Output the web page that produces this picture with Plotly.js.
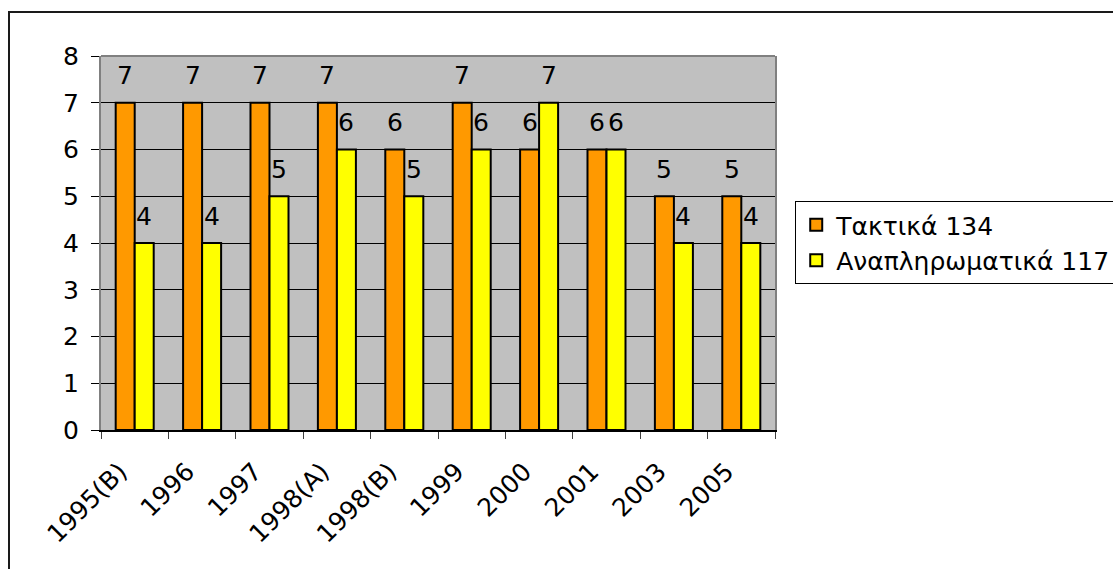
<!DOCTYPE html>
<html>
<head>
<meta charset="utf-8">
<script src="https://cdn.plot.ly/plotly-3.0.1.min.js"></script>
<style>
  html, body { margin: 0; padding: 0; background: #ffffff; }
  #wrap { position: relative; width: 1113px; height: 569px; overflow: hidden; }
  #chart { position: absolute; left: 0; top: 0; width: 1113px; height: 569px; }
  #frame { position: absolute; left: 8px; top: 11px; width: 1200px; height: 700px;
           border-left: 2px solid #1a1a1a; border-top: 2px solid #1a1a1a; pointer-events: none; }
</style>
</head>
<body>
<div id="wrap">
  <div id="chart"></div>
  <div id="frame"></div>
</div>
<script>
const categories = ["1995(B)", "1996", "1997", "1998(A)", "1998(B)", "1999", "2000", "2001", "2003", "2005"];
const taktika = [7, 7, 7, 7, 6, 7, 6, 6, 5, 5];
const anaplirwmatika = [4, 4, 5, 6, 5, 6, 7, 6, 4, 4];
const seriesNames = ["Τακτικά 134", "Αναπληρωματικά 117"];

const FONT = '"DejaVu Sans", "Liberation Sans", Arial, sans-serif';
const FS = 25;
const bargap = 0.436;
const half = (1 - bargap) / 4;

const traces = [
  {
    type: 'bar', name: seriesNames[0], x: categories, y: taktika,
    marker: { color: '#FF9900', line: { color: '#000000', width: 2 } },
    cliponaxis: false, hoverinfo: 'x+y'
  },
  {
    type: 'bar', name: seriesNames[1], x: categories, y: anaplirwmatika,
    marker: { color: '#FFFF00', line: { color: '#000000', width: 2 } },
    cliponaxis: false, hoverinfo: 'x+y'
  }
];

const annotations = [];
[taktika, anaplirwmatika].forEach((vals, s) => {
  vals.forEach((v, i) => {
    annotations.push({
      x: i + (s === 0 ? -half : half), y: v, xref: 'x', yref: 'y',
      text: String(v), showarrow: false, yanchor: 'middle', xanchor: 'center',
      yshift: 27, font: { family: FONT, size: FS, color: '#000000' }
    });
  });
});

const layout = {
  width: 1113, height: 569,
  margin: { l: 101, r: 338, t: 56, b: 139, pad: 0, autoexpand: false },
  paper_bgcolor: 'rgba(0,0,0,0)',
  plot_bgcolor: '#C0C0C0',
  font: { family: FONT, size: FS, color: '#000000' },
  barmode: 'group', bargap: bargap, bargroupgap: 0,
  showlegend: true,
  legend: {
    x: 1.03, y: 0.612, xanchor: 'left', yanchor: 'top',
    bgcolor: '#ffffff', bordercolor: '#000000', borderwidth: 1,
    font: { family: FONT, size: FS, color: '#000000' },
    traceorder: 'normal', itemwidth: 30
  },
  xaxis: {
    type: 'category', automargin: false,
    showgrid: false, zeroline: false,
    showline: true, linecolor: '#000000', linewidth: 2,
    ticks: 'outside', tickson: 'boundaries', ticklen: 7, tickcolor: '#404040', tickwidth: 1,
    tickangle: -45, tickfont: { family: FONT, size: FS, color: '#000000' },
    ticklabelstandoff: 15, ticklabelshift: -15
  },
  yaxis: {
    range: [0, 8], dtick: 1, tick0: 0, automargin: false,
    showgrid: true, gridcolor: '#000000', gridwidth: 1, zeroline: false,
    showline: true, linecolor: '#808080', linewidth: 2, mirror: true,
    ticks: 'outside', ticklen: 8, tickcolor: '#000000', tickwidth: 1,
    tickfont: { family: FONT, size: FS, color: '#000000' },
    ticklabelstandoff: 7
  },
  shapes: [
    { type: 'line', xref: 'paper', yref: 'paper', x0: 0, x1: 1, y0: 1, y1: 1,
      line: { color: '#808080', width: 2 }, layer: 'above' }
  ],
  annotations: annotations
};

Plotly.newPlot('chart', traces, layout, { displayModeBar: false, staticPlot: true });
</script>
</body>
</html>
